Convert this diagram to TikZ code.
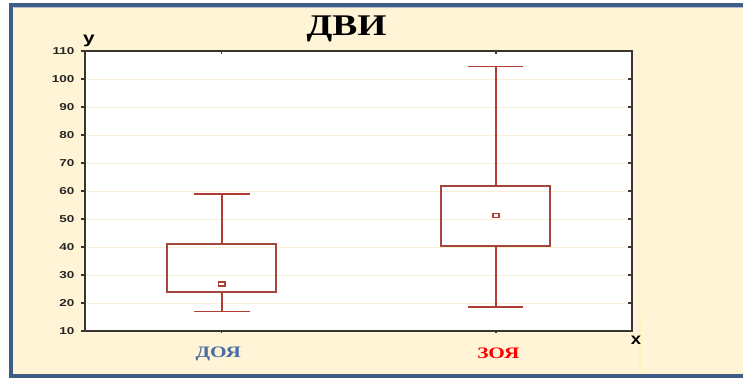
\documentclass[tikz,border=0pt]{standalone}
\usepackage{fontspec}
\setmainfont{Liberation Serif}
\newfontfamily\arsans{Liberation Sans}
\definecolor{bgyellow}{HTML}{FFF5D6}
\definecolor{framebl}{HTML}{3D5C86}
\definecolor{gridyel}{HTML}{FAF0D8}
\definecolor{boxred}{HTML}{A3473D}
\definecolor{lblblue}{HTML}{4A6DA3}
\definecolor{axisgr}{HTML}{3A3530}
\tikzset{
  boxline/.style={draw=boxred, line width=1.8pt},
  whisk/.style={draw=boxred!85!red, line width=1.6pt},
  gridln/.style={draw=gridyel, line width=0.8pt},
  axisln/.style={draw=axisgr, line width=1.8pt},
  tickln/.style={draw=axisgr, line width=1.1pt},
  ticklbl/.style={anchor=east, inner sep=0pt, font=\arsans\bfseries\fontsize{10}{10}\selectfont, text=black!85},
  grplbl/.style={inner sep=0pt, font=\bfseries\fontsize{16}{16}\selectfont},
  axlbl/.style={inner sep=0pt, font=\arsans\bfseries\fontsize{16}{16}\selectfont},
}
\newcommand{\hs}[2]{\scalebox{#1}[1]{#2}}
\begin{document}
\begin{tikzpicture}[x=1pt,y=-1pt]
\useasboundingbox (0,0) rectangle (743,378);
\fill[white] (0,0) rectangle (743,378);
% outer frame
\fill[bgyellow] (11,5) rectangle (770,376);
\draw[framebl, line width=3.5pt] (11,5) rectangle (770,376);
\draw[framebl!40!white, line width=0.6pt] (13.5,7.5) -- (770,7.5);
% faint line at right
\draw[draw=yellow!12!bgyellow, line width=1.5pt] (640,315) -- (640,373);
% plot area
\fill[white] (85,51) rectangle (632,331);
\foreach \v in {20,30,...,100}{
  \draw[gridln] (86,{331-(\v-10)*2.8}) -- (631,{331-(\v-10)*2.8});
}
\draw[axisln] (85,51) rectangle (632,331);
% ticks and labels
\foreach \v in {10,20,...,110}{
  \draw[tickln] (81,{331-(\v-10)*2.8}) -- (85,{331-(\v-10)*2.8});
  \draw[tickln] (628,{331-(\v-10)*2.8}) -- (632,{331-(\v-10)*2.8});
  \node[ticklbl] (t\v) at (74.5,{331-(\v-10)*2.8}) {\hs{1.35}{\v}};
}
\foreach \xx in {221.7,496}{
  \draw[tickln] (\xx,51) -- (\xx,54);
  \draw[tickln] (\xx,331) -- (\xx,333);
}
% title
\node[inner sep=0pt, font=\bfseries\fontsize{30}{30}\selectfont] (title) at (346.5,29) {\hs{1.25}{ДВИ}};
% axis labels
\node[axlbl] (ylab) at (89,41) {\hs{1.3}{y}};
\node[axlbl] (xlab) at (636,340) {\hs{1.15}{x}};
% group labels
\node[grplbl, text=lblblue] (g1) at (218.3,353.5) {\hs{1.33}{ДОЯ}};
\node[grplbl, text=red] (g2) at (498.3,353.5) {\hs{1.33}{ЗОЯ}};
% box 1: ДОЯ
\draw[whisk] (221.7,{331-(59-10)*2.8}) -- (221.7,{331-(41-10)*2.8});
\draw[whisk] (194,{331-(59-10)*2.8}) -- (249.5,{331-(59-10)*2.8});
\draw[whisk] (221.7,{331-(24-10)*2.8}) -- (221.7,{331-(17-10)*2.8});
\draw[whisk] (194,{331-(17-10)*2.8}) -- (249.5,{331-(17-10)*2.8});
\draw[boxline] (166.7,{331-(41-10)*2.8}) rectangle (276,{331-(24-10)*2.8});
\draw[boxred!90!red, line width=1.5pt] (218.5,282) rectangle (224.9,286);
% box 2: ЗОЯ
\draw[whisk] (496,{331-(104.4-10)*2.8}) -- (496,{331-(61.8-10)*2.8});
\draw[whisk] (467.7,{331-(104.4-10)*2.8}) -- (523.3,{331-(104.4-10)*2.8});
\draw[whisk] (496,{331-(40.5-10)*2.8}) -- (496,{331-(18.5-10)*2.8});
\draw[whisk] (467.7,{331-(18.5-10)*2.8}) -- (523.3,{331-(18.5-10)*2.8});
\draw[boxline] (441,{331-(61.8-10)*2.8}) rectangle (550.3,{331-(40.5-10)*2.8});
\draw[boxred!90!red, line width=1.5pt] (492.8,213.7) rectangle (499.2,217.7);
\end{tikzpicture}
\end{document}
